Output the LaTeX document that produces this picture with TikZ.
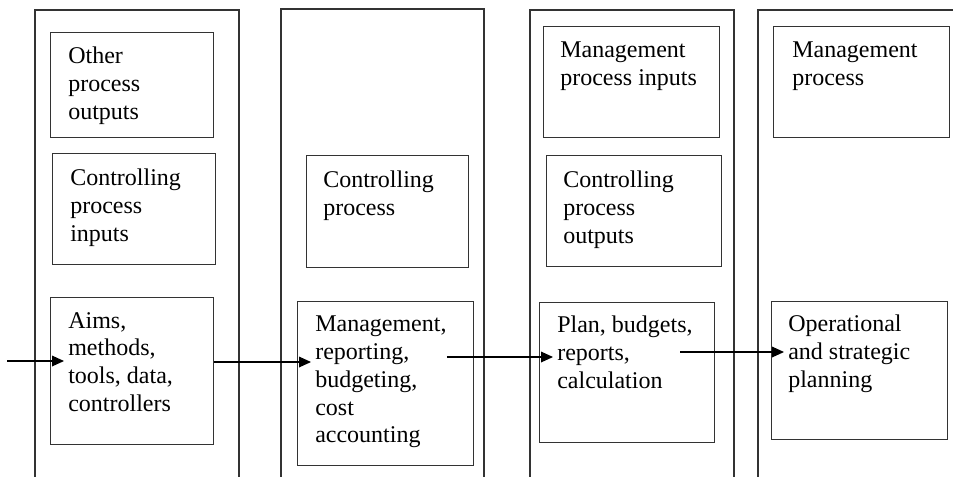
\documentclass[tikz,border=0pt]{standalone}
\usepackage{fontspec}
\setmainfont{Liberation Serif}
\usetikzlibrary{arrows.meta}

\newcommand\pxu{0.75pt}

\begin{document}
\begin{tikzpicture}[x=0.75pt, y=-0.75pt]

      \useasboundingbox (0,0) rectangle (953,476);
      \clip (0,0) rectangle (953,476);

      % columns
      \begin{scope}[line width=1.1pt, draw=black!80]
        \draw (35,10)  rectangle (239,500);
        \draw (281,9)  rectangle (484,500);
        \draw (530,10) rectangle (734,500);
        \draw (758,10) rectangle (990,500);
      \end{scope}

      \begin{scope}[every node/.style={rectangle, draw=black!80, line width=1.1pt,
          inner sep=0pt, anchor=north west}]
        \node[minimum width=163*\pxu, minimum height=105*\pxu] (b11) at (50,32)  {};
        \node[minimum width=163*\pxu, minimum height=111*\pxu] (b12) at (52,153) {};
        \node[minimum width=163*\pxu, minimum height=147*\pxu] (b13) at (50,297) {};
        \node[minimum width=162*\pxu, minimum height=112*\pxu] (b21) at (306,155) {};
        \node[minimum width=176*\pxu, minimum height=164*\pxu] (b22) at (297,301) {};
        \node[minimum width=176*\pxu, minimum height=111*\pxu] (b31) at (543,26)  {};
        \node[minimum width=175*\pxu, minimum height=111*\pxu] (b32) at (546,155) {};
        \node[minimum width=175*\pxu, minimum height=140*\pxu] (b33) at (539,302) {};
        \node[minimum width=176*\pxu, minimum height=111*\pxu] (b41) at (773,26)  {};
        \node[minimum width=176*\pxu, minimum height=138*\pxu] (b42) at (771,301) {};
      \end{scope}

      \begin{scope}[every node/.style={inner sep=0pt, anchor=north west, align=left,
          font=\fontsize{18}{20.8}\selectfont}]
        \node (other) at (68,47)  {Other\\process\\outputs};
        \node (cin)   at (70,169) {Controlling\\process\\inputs};
        \node (aims)  at (68,312) {Aims,\\methods,\\tools, data,\\controllers};
        \node (cproc) at (323,171) {Controlling\\process};
        \node (mgmt)  at (315,316) {Management,\\reporting,\\budgeting,\\cost\\accounting};
        \node (min)   at (560,42) {Management\\process inputs};
        \node (cout)  at (563,171) {Controlling\\process\\outputs};
        \node (plan)  at (557,316) {Plan, budgets,\\reports,\\calculation};
        \node (mproc) at (792,42) {Management\\process};
        \node (oper)  at (788,315) {Operational\\and strategic\\planning};
      \end{scope}

      \coordinate (in) at (7,361);
      \coordinate (p4) at (680,352);

      \begin{scope}[every path/.style={draw, line width=0.9pt,
          -{Triangle[length=9pt, width=8pt]}, shorten >=3pt}]
        \path (in) -- (aims.west |- in);
        \path (b13.east |- 0,362) -- (mgmt.west |- 0,362);
        \path (mgmt.east |- 0,357) -- (plan.west |- 0,357);
        \path (p4) -- (oper.west |- p4);
      \end{scope}

    \end{tikzpicture}
\end{document}
